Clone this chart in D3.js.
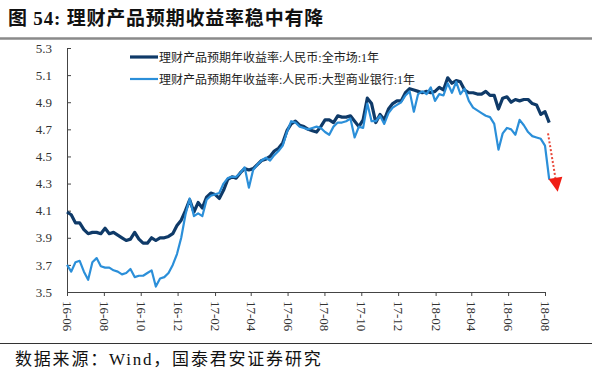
<!DOCTYPE html>
<html><head><meta charset="utf-8">
<script src="https://cdn.jsdelivr.net/npm/d3@7"></script>
<style>
html,body{margin:0;padding:0;background:#fff;}
svg{display:block;}
</style></head>
<body>
<script>
const titleText = "图 54:  理财产品预期收益率稳中有降";
const sourceText = "数据来源：Wind，国泰君安证券研究";
const seriesNames = ["理财产品预期年收益率:人民币:全市场:1年", "理财产品预期年收益率:人民币:大型商业银行:1年"];
const startDate = "2016-06-01"; // first weekly observation
const xTickLabels = ["16-06","16-08","16-10","16-12","17-02","17-04","17-06","17-08","17-10","17-12","18-02","18-04","18-06","18-08"];
const yTicks = [3.5,3.7,3.9,4.1,4.3,4.5,4.7,4.9,5.1,5.3];
const allMarket = [4.09,4.07,4.01,4.01,3.96,3.93,3.94,3.94,3.93,3.97,3.93,3.94,3.92,3.90,3.88,3.89,3.94,3.89,3.86,3.86,
  3.90,3.88,3.90,3.90,3.91,3.93,3.99,4.03,4.10,4.18,4.09,4.16,4.12,4.20,4.23,4.22,4.19,4.25,4.33,4.35,
  4.34,4.38,4.41,4.40,4.41,4.44,4.47,4.48,4.50,4.54,4.56,4.60,4.69,4.74,4.76,4.73,4.72,4.70,4.69,4.68,
  4.72,4.77,4.77,4.75,4.80,4.79,4.79,4.80,4.76,4.72,4.77,4.93,4.89,4.75,4.81,4.77,4.85,4.89,4.91,4.91,
  4.97,5.00,4.99,4.98,4.97,4.98,4.97,4.98,5.01,4.99,5.08,5.04,5.06,5.05,4.99,4.97,4.97,4.96,4.96,4.98,
  4.95,4.95,4.85,4.93,4.94,4.90,4.92,4.91,4.92,4.92,4.89,4.88,4.81,4.83,4.75];
const bigBanks = [3.70,3.65,3.72,3.73,3.65,3.59,3.72,3.75,3.69,3.68,3.68,3.66,3.65,3.63,3.64,3.67,3.61,3.62,3.62,3.64,
  3.66,3.54,3.60,3.61,3.64,3.70,3.78,3.90,4.07,4.19,4.06,4.08,4.06,4.18,4.21,4.22,4.23,4.30,4.34,4.35,
  4.35,4.38,4.42,4.27,4.40,4.44,4.47,4.49,4.47,4.51,4.54,4.58,4.68,4.76,4.75,4.72,4.71,4.70,4.71,4.72,
  4.71,4.68,4.66,4.72,4.75,4.75,4.76,4.78,4.64,4.72,4.71,4.89,4.76,4.76,4.80,4.74,4.82,4.86,4.88,4.90,
  4.95,4.98,4.83,4.96,4.98,4.96,5.01,4.91,4.96,4.95,5.04,4.97,5.05,4.96,5.00,4.91,4.86,4.84,4.82,4.80,
  4.79,4.74,4.55,4.67,4.71,4.70,4.66,4.77,4.73,4.68,4.65,4.64,4.63,4.58,4.33];
// annotation arrow (data units): from [date, value] to [date, value]
const arrowFrom = ["2018-08-06", 4.67];
const arrowTo = ["2018-08-22", 4.24];

const W = 600, H = 375;
const colors = ["#0f3a68", "#2b8fd9"];
const parse = d3.timeParse("%Y-%m-%d");
const parseTick = d3.timeParse("%y-%m");
const t0 = parse(startDate);
const dates = allMarket.map((_, i) => d3.timeDay.offset(t0, 7 * i));
const tickDates = xTickLabels.map(parseTick);

const svg = d3.select("body").append("svg").attr("width", W).attr("height", H);
const latin = "'Liberation Serif','Noto Sans CJK SC',serif";

// title
svg.append("text").attr("x", 8).attr("y", 25).attr("font-family", latin)
  .attr("font-size", 19).attr("font-weight", "bold").attr("letter-spacing", 0.8).attr("fill", "#111").text(titleText);
svg.append("line").attr("x1", 0).attr("x2", 592).attr("y1", 38.5).attr("y2", 38.5)
  .attr("stroke", "#8a8a8a").attr("stroke-width", 2.5);

const x = d3.scaleTime().domain([tickDates[0], tickDates[tickDates.length - 1]]).range([67, 545]);
const y = d3.scaleLinear().domain([3.5, 5.3]).range([292, 48]);

// y axis
const gy = svg.append("g").attr("transform", "translate(67,0)")
  .call(d3.axisLeft(y).tickValues(yTicks).tickFormat(d3.format(".1f")).tickSizeInner(-4).tickSizeOuter(0).tickPadding(15));
gy.select(".domain").attr("stroke", "#444");
gy.selectAll(".tick line").attr("stroke", "#444");
gy.selectAll("text").attr("font-family", latin).attr("font-size", 13).attr("fill", "#333");

// x axis
const gx = svg.append("g").attr("transform", "translate(0,292)")
  .call(d3.axisBottom(x).tickValues(tickDates).tickFormat((d, i) => xTickLabels[i]).tickSizeInner(4).tickSizeOuter(0));
gx.select(".domain").attr("stroke", "#444");
gx.selectAll(".tick line").attr("stroke", "#444");
gx.selectAll("text").attr("font-family", latin).attr("font-size", 13).attr("fill", "#333")
  .attr("y", 0).attr("x", 9).attr("dy", "0.35em").attr("transform", "rotate(90)").style("text-anchor", "start");

// lines
const line = d3.line().x((d, i) => x(dates[i])).y(d => y(d));
[allMarket, bigBanks].forEach((s, k) => {
  svg.append("path").datum(s).attr("d", line).attr("fill", "none")
    .attr("stroke", colors[k]).attr("stroke-width", k === 0 ? 3.2 : 2.2).attr("stroke-linejoin", "round");
});

// legend
seriesNames.forEach((n, k) => {
  const ly = 57 + k * 22;
  svg.append("line").attr("x1", 130).attr("x2", 158).attr("y1", ly).attr("y2", ly)
    .attr("stroke", colors[k]).attr("stroke-width", k === 0 ? 3.2 : 2.2);
  svg.append("text").attr("x", 159).attr("y", ly + 4.5).attr("font-family", latin)
    .attr("font-size", 12).attr("fill", "#222").text(n);
});

// arrow annotation
const ax1 = x(parse(arrowFrom[0])), ay1 = y(arrowFrom[1]);
const ax2 = x(parse(arrowTo[0])), ay2 = y(arrowTo[1]);
const ang = Math.atan2(ay2 - ay1, ax2 - ax1);
const headLen = 14, headW = 7;
const bx = ax2 - headLen * Math.cos(ang), by = ay2 - headLen * Math.sin(ang);
svg.append("line").attr("x1", ax1).attr("y1", ay1).attr("x2", bx).attr("y2", by)
  .attr("stroke", "#e8483a").attr("stroke-width", 2).attr("stroke-dasharray", "2,2");
const px = -Math.sin(ang), py = Math.cos(ang);
svg.append("path").attr("d", `M${ax2},${ay2}L${bx + px * headW},${by + py * headW}L${bx - px * headW},${by - py * headW}Z`)
  .attr("fill", "#f01e14");

// source
svg.append("line").attr("x1", 0).attr("x2", 592).attr("y1", 343.5).attr("y2", 343.5)
  .attr("stroke", "#333").attr("stroke-width", 1);
svg.append("text").attr("x", 15).attr("y", 365).attr("font-family", latin)
  .attr("font-size", 17).attr("letter-spacing", 1.8).attr("fill", "#111").text(sourceText);
</script>
</body></html>
